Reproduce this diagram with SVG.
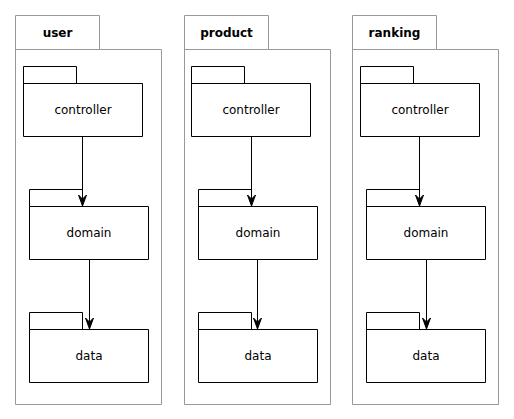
<svg xmlns="http://www.w3.org/2000/svg" width="514" height="419" viewBox="0 0 514 419">
<defs>
<style>
.pkg{fill:#fff;stroke:#999;stroke-width:1}
.node{fill:#fff;stroke:#000;stroke-width:1}
.plabel{font-family:"DejaVu Sans",sans-serif;font-size:12px;font-weight:bold;text-anchor:middle;fill:#000}
.nlabel{font-family:"DejaVu Sans",sans-serif;font-size:12px;text-anchor:middle;fill:#000}
.edge{stroke:#000;stroke-width:1;fill:none}
.head{fill:#000;stroke:#000;stroke-width:1}
</style>
</defs>
<rect width="514" height="419" fill="#fff"/>

<g id="pkg-user">
<path class="pkg" d="M15.5,15.5 H99.5 V49.5 H161.5 V404.5 H15.5 Z M15.5,49.5 H99.5"/>
<text class="plabel" x="57.5" y="36.5">user</text>
</g>
<g id="pkg-product">
<path class="pkg" d="M184.5,15.5 H268.5 V49.5 H330.5 V404.5 H184.5 Z M184.5,49.5 H268.5"/>
<text class="plabel" x="226.5" y="36.5">product</text>
</g>
<g id="pkg-ranking">
<path class="pkg" d="M352.5,15.5 H436.5 V49.5 H498.5 V404.5 H352.5 Z M352.5,49.5 H436.5"/>
<text class="plabel" x="394.5" y="36.5">ranking</text>
</g>

<g id="user-controller">
<path class="node" d="M23.5,66.5 H76.5 V83.5 H23.5 Z M23.5,83.5 H142.5 V136.5 H23.5 Z"/>
<text class="nlabel" x="83" y="114">controller</text>
</g>
<g id="user-domain">
<path class="node" d="M29.5,189.5 H82.5 V206.5 H29.5 Z M29.5,206.5 H148.5 V259.5 H29.5 Z"/>
<text class="nlabel" x="89" y="237">domain</text>
</g>
<g id="user-data">
<path class="node" d="M29.5,312.5 H82.5 V329.5 H29.5 Z M29.5,329.5 H148.5 V382.5 H29.5 Z"/>
<text class="nlabel" x="89" y="360">data</text>
</g>

<g id="product-controller">
<path class="node" d="M191.5,66.5 H244.5 V83.5 H191.5 Z M191.5,83.5 H310.5 V136.5 H191.5 Z"/>
<text class="nlabel" x="251" y="114">controller</text>
</g>
<g id="product-domain">
<path class="node" d="M198.5,189.5 H251.5 V206.5 H198.5 Z M198.5,206.5 H317.5 V259.5 H198.5 Z"/>
<text class="nlabel" x="258" y="237">domain</text>
</g>
<g id="product-data">
<path class="node" d="M198.5,312.5 H251.5 V329.5 H198.5 Z M198.5,329.5 H317.5 V382.5 H198.5 Z"/>
<text class="nlabel" x="258" y="360">data</text>
</g>

<g id="ranking-controller">
<path class="node" d="M360.5,66.5 H413.5 V83.5 H360.5 Z M360.5,83.5 H479.5 V136.5 H360.5 Z"/>
<text class="nlabel" x="420" y="114">controller</text>
</g>
<g id="ranking-domain">
<path class="node" d="M366.5,189.5 H419.5 V206.5 H366.5 Z M366.5,206.5 H485.5 V259.5 H366.5 Z"/>
<text class="nlabel" x="426" y="237">domain</text>
</g>
<g id="ranking-data">
<path class="node" d="M366.5,312.5 H419.5 V329.5 H366.5 Z M366.5,329.5 H485.5 V382.5 H366.5 Z"/>
<text class="nlabel" x="426" y="360">data</text>
</g>

<g id="connectors">
<path class="edge" d="M82.5,136.5 V200"/>
<path class="head" d="M82.5,206 L78.5,195 L82.5,199 L86.5,195 Z"/>
<path class="edge" d="M89.5,259.5 V323"/>
<path class="head" d="M89.5,329 L85.5,318 L89.5,322 L93.5,318 Z"/>
<path class="edge" d="M251.5,136.5 V200"/>
<path class="head" d="M251.5,206 L247.5,195 L251.5,199 L255.5,195 Z"/>
<path class="edge" d="M257.5,259.5 V323"/>
<path class="head" d="M257.5,329 L253.5,318 L257.5,322 L261.5,318 Z"/>
<path class="edge" d="M419.5,136.5 V200"/>
<path class="head" d="M419.5,206 L415.5,195 L419.5,199 L423.5,195 Z"/>
<path class="edge" d="M426.5,259.5 V323"/>
<path class="head" d="M426.5,329 L422.5,318 L426.5,322 L430.5,318 Z"/>
</g>
</svg>
